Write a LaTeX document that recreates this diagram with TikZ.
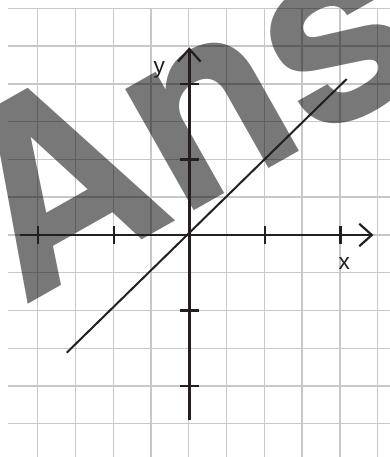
\documentclass[tikz,border=0pt]{standalone}
\usepackage{fontspec}
\setmainfont{Liberation Sans}
\newfontfamily\wmfont{TeX Gyre Heros}
\usetikzlibrary{arrows.meta,calc}
\definecolor{gridgray}{RGB}{200,200,200}
\definecolor{axisblack}{RGB}{35,31,32}
\begin{document}
\begin{tikzpicture}[x=1pt,y=-1pt,
  gridline/.style={draw=gridgray,line width=1.4pt},
  axis/.style={draw=axisblack,line width=2.4pt,-{Straight Barb[length=12.6pt,width=22.5pt,line width=2.2pt]}},
  tickmark/.style={draw=axisblack,line width=2.4pt},
  graphline/.style={draw=axisblack,line width=2pt},
  lbl/.style={font=\fontsize{22.7}{22.7}\selectfont,text=axisblack,inner sep=0pt,anchor=base},
  wm/.style={font=\wmfont\bfseries\fontsize{258}{258}\selectfont,text=black,text opacity=0.53,inner sep=0pt,anchor=base west,rotate=29.5,xscale=0.97}]
\useasboundingbox (0,0) rectangle (390,457);
\def\u{37.77}
% grid
\foreach \k in {0,...,11} \draw[gridline] (8,{8.3+\k*\u}) -- (390,{8.3+\k*\u});
\foreach \k in {0,...,9} \draw[gridline] ({37.7+\k*\u},8.3) -- ({37.7+\k*\u},457);
% watermark
\node[wm] (wmark) at (22.7,307.5) {Ans};
% axes
\coordinate (O) at (189.3,235);
\coordinate (xl) at (20,235);
\coordinate (xr) at (373.5,235);
\coordinate (yb) at (189.3,420);
\coordinate (yt) at (189.3,47.3);
\draw[axis] (xl) -- (xr);
\draw[axis] (yb) -- (yt);
% ticks
\foreach \t in {-4,-2,2,4} {
  \draw[tickmark] ($(O)+(\t*\u,-8.7)$) -- ($(O)+(\t*\u,8.7)$);
  \draw[tickmark] ($(O)+(-9.3,\t*\u)$) -- ($(O)+(9.3,\t*\u)$);
}
% graph line
\coordinate (la) at (66.7,352.7);
\coordinate (lb) at (346.7,79);
\draw[graphline] (la) -- (lb);
% labels
\node[lbl] (ylab) at (159.3,73.5) {y};
\node[lbl] (xlab) at (344.2,269.3) {x};
\end{tikzpicture}
\end{document}
